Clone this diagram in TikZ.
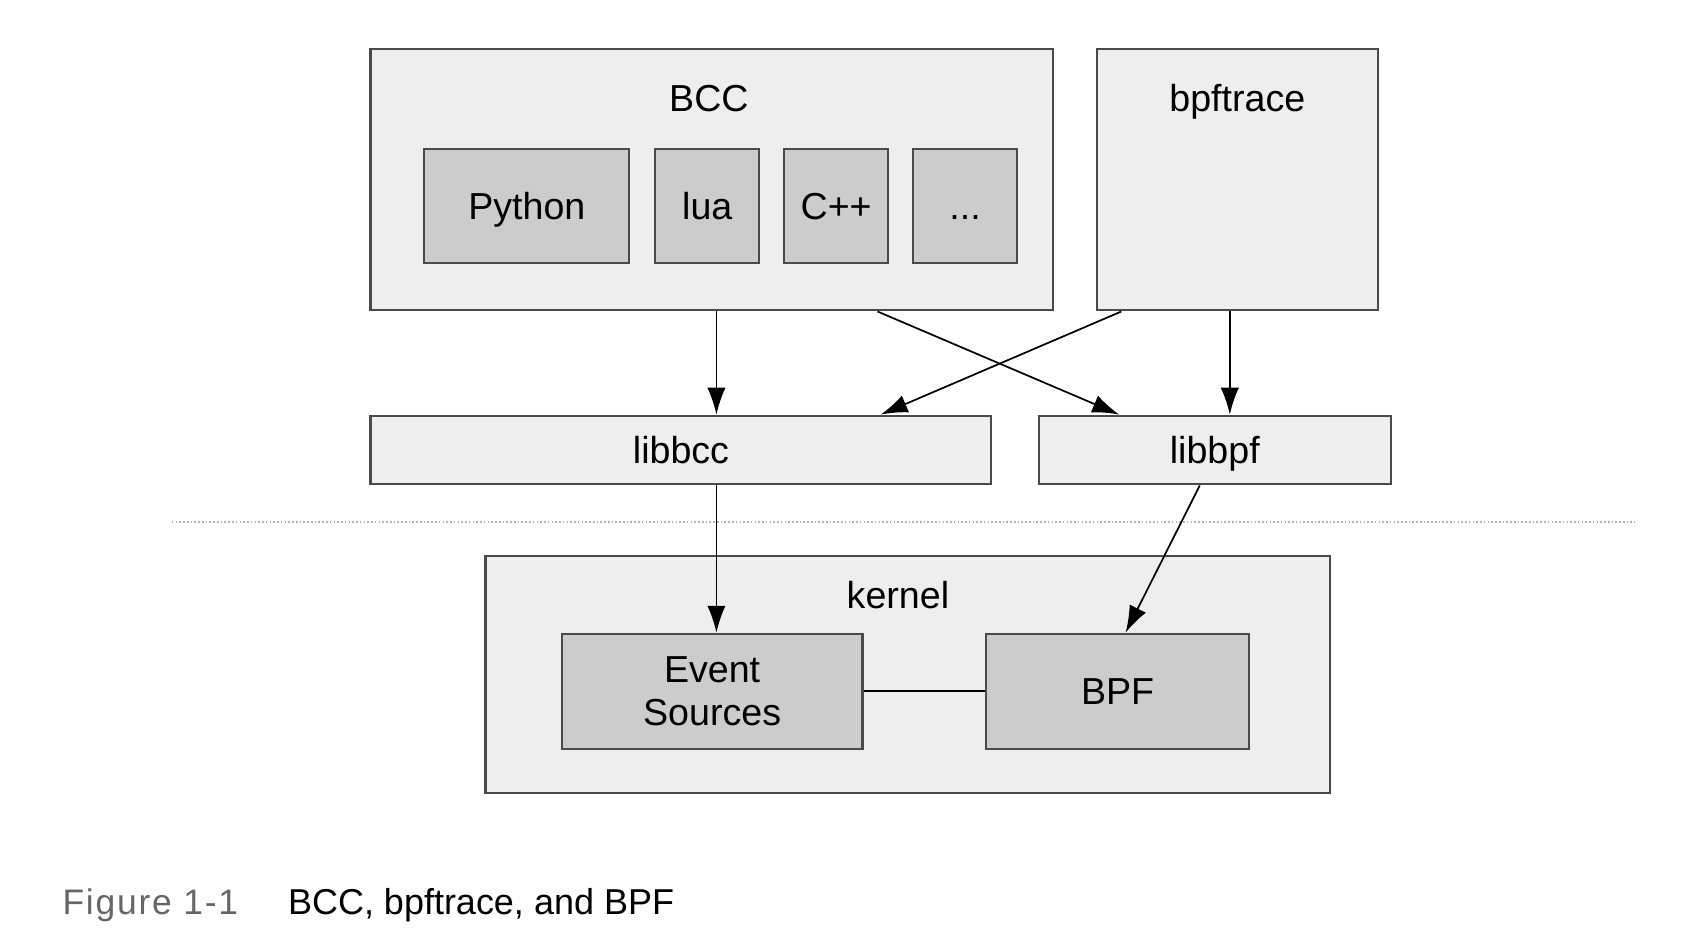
\documentclass[tikz,border=0pt]{standalone}
\usepackage{fontspec}
\setmainfont{Liberation Sans}
\usepackage{tikz}
\usetikzlibrary{positioning}
\usetikzlibrary{arrows.meta}
\definecolor{boxfill}{HTML}{EEEEEE}
\definecolor{innerfill}{HTML}{CCCCCC}
\definecolor{boxline}{HTML}{4A4A4A}

\begin{document}
\begin{tikzpicture}[
  x=1pt, y=-1pt,
  node distance=21pt and 21pt,
  outerbox/.style={draw=boxline,fill=boxfill,line width=2pt,inner sep=0pt},
  innerbox/.style={draw=boxline,fill=innerfill,line width=2pt,inner sep=0pt,
    minimum height=106pt,align=center,font=\fontsize{35}{40}\selectfont},
  boxtext/.style={font=\fontsize{35}{40}\selectfont},
  oneline/.style={text height=25pt,text depth=0pt},
  arr/.style={-{Latex[length=25pt,width=17pt]},line width=1.6pt}
]
\useasboundingbox (0,0) rectangle (1566,884.5);

% user space
\node[outerbox,minimum width=635pt,minimum height=243pt] (bcc) at (662.5,167.5) {};
\node[outerbox,minimum width=262pt,minimum height=243pt,right=39pt of bcc] (bpftrace) {};
\node[boxtext,oneline] (bcctext) at (660,91) {BCC};
\node[boxtext,oneline] (bpftracetext) at (1152,91) {bpftrace};

\node[innerbox,oneline,minimum width=191pt] (python) at (490.5,192) {Python};
\node[innerbox,oneline,minimum width=97pt,right=22pt of python] (lua) {lua};
\node[innerbox,oneline,minimum width=97pt,right=of lua] (cpp) {C++};
\node[innerbox,oneline,minimum width=97pt,right=of cpp] (more) {...};

% libraries
\node[outerbox,boxtext,oneline,minimum width=578pt,minimum height=64pt] (libbcc) at (634,419) {libbcc};
\node[outerbox,boxtext,oneline,minimum width=328pt,minimum height=64pt,right=42pt of libbcc] (libbpf) {libbpf};

% kernel
\node[outerbox,minimum width=786pt,minimum height=220pt] (kernel) at (845,628) {};
\node[boxtext,oneline] (kerneltext) at (836,554) {kernel};
\node[innerbox,minimum width=280pt,minimum height=107pt] (evsrc) at (663,643.5) {Event\\Sources};
\node[innerbox,oneline,minimum width=245pt,minimum height=107pt,right=113pt of evsrc] (bpf) {BPF};

\draw[dotted,line width=1.5pt,black!30] (160,486) -- (1522,486);

\path ([xshift=4.5pt]bcc.south) edge[arr] ([xshift=33pt]libbcc.north)
([xshift=154.5pt]bcc.south) edge[arr] ([xshift=-89pt]libbpf.north)
([xshift=-108pt]bpftrace.south) edge[arr] ([xshift=186pt]libbcc.north)
([xshift=-7pt]bpftrace.south) edge[arr] ([xshift=14pt]libbpf.north)
([xshift=33pt]libbcc.south) edge[arr] ([xshift=4pt]evsrc.north)
([xshift=-14pt]libbpf.south) edge[arr] ([xshift=7.5pt]bpf.north)
(evsrc) edge[line width=1.6pt] (bpf)
;

% caption
\node[anchor=west,font=\addfontfeature{LetterSpace=5}\fontsize{33}{38}\selectfont,text=black!60,inner sep=0pt] (figno) at (58,843) {Figure 1-1};
\node[anchor=west,font=\fontsize{33.5}{38}\selectfont,inner sep=0pt] (figcap) at (268,843) {BCC, bpftrace, and BPF};
\end{tikzpicture}
\end{document}
